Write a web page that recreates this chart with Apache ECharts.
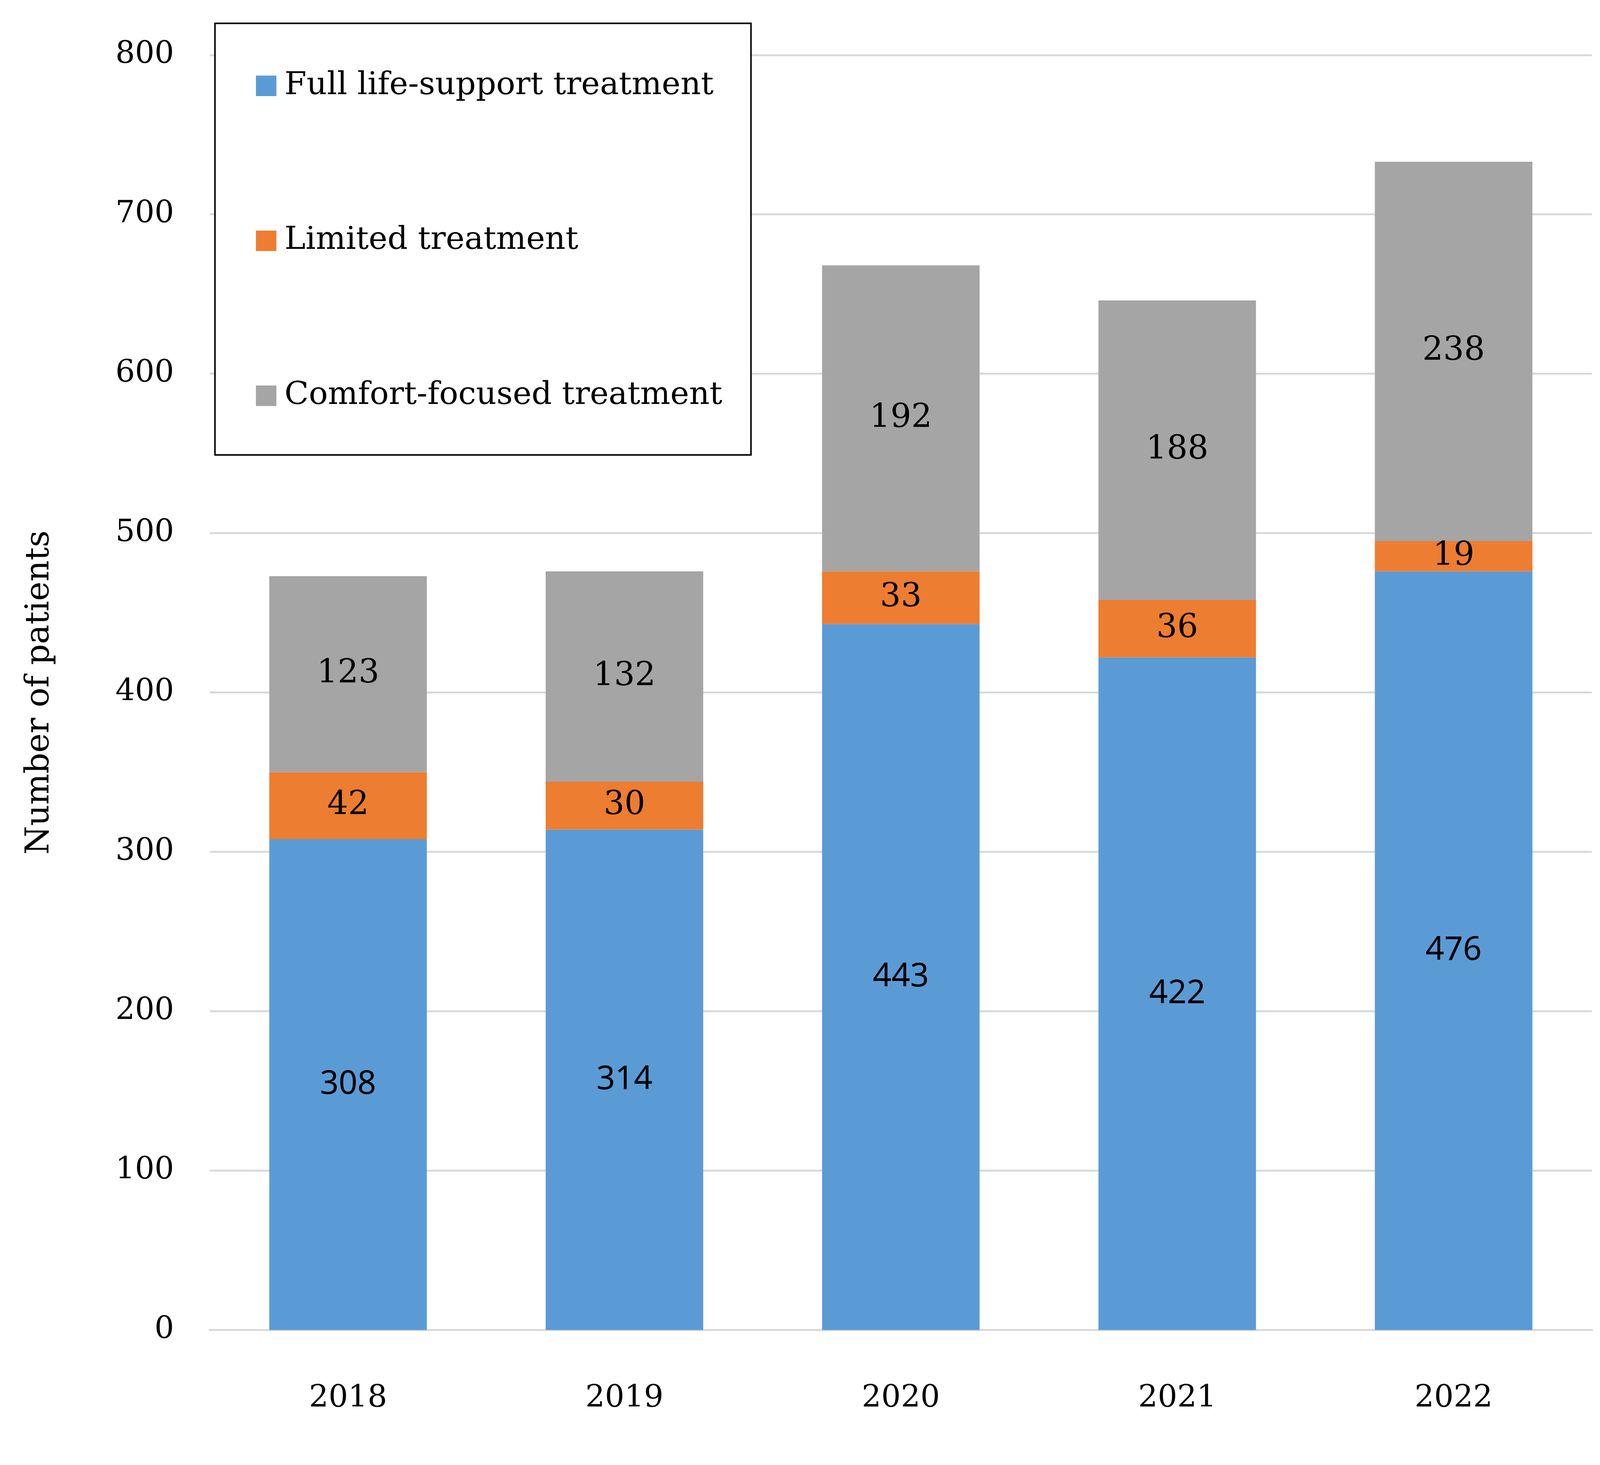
<!DOCTYPE html>
<html>
<head>
<meta charset="utf-8">
<script src="https://cdn.jsdelivr.net/npm/echarts@6/dist/echarts.min.js"></script>
<style>html,body{margin:0;padding:0;background:#fff;overflow:hidden}#chart{width:100vw;height:100vh}</style>
</head>
<body>
<div id="chart"></div>
<script>
const years = ['2018', '2019', '2020', '2021', '2022'];
const full_support = [308, 314, 443, 422, 476];
const limited = [42, 30, 33, 36, 19];
const comfort = [123, 132, 192, 188, 238];
const y_ticks = [0, 100, 200, 300, 400, 500, 600, 700, 800];

const serif = 'DejaVu Serif';
let dom = document.getElementById('chart');
let chart = echarts.init(dom);
// sizes measured on a 1563 px wide copy of the reference
const s = dom.clientWidth / 1563;
const sy = dom.clientHeight / 879;

function bar_series(name, data, color, font) {
    return {
        name: name,
        type: 'bar',
        stack: 'total',
        data: data,
        barWidth: '57%',
        itemStyle: { color: color },
        label: { show: true, position: 'inside', color: '#000', fontFamily: font, fontSize: 32 * s },
    };
}

chart.setOption({
    animation: false,
    backgroundColor: '#fff',
    grid: { left: 205 * s, right: 8 * s, top: 33 * sy, bottom: 81 * sy },
    legend: {
        left: 210 * s, top: 14 * sy,
        orient: 'vertical',
        padding: [28 * sy, 28 * s, 26 * sy, 40 * s],
        itemGap: 74 * sy,
        itemWidth: 20 * s, itemHeight: 20 * s,
        borderColor: '#000', borderWidth: 1.5 * s,
        backgroundColor: '#fff',
        textStyle: { fontFamily: serif, fontSize: 31 * s, color: '#000', padding: [0, 0, 0, 6 * s] },
        icon: 'rect',
    },
    xAxis: {
        type: 'category',
        data: years,
        axisLine: { lineStyle: { color: '#d9d9d9', width: 2 * s } },
        axisTick: { show: false },
        axisLabel: { fontFamily: serif, fontSize: 30 * s, color: '#000', margin: 32 * sy },
    },
    yAxis: {
        type: 'value',
        min: y_ticks[0], max: y_ticks[y_ticks.length - 1], interval: 100,
        name: 'Number of patients',
        nameLocation: 'middle',
        nameGap: 150 * s,
        nameTextStyle: { fontFamily: serif, fontSize: 32 * s, color: '#000' },
        axisLine: { show: false },
        axisTick: { show: false },
        splitLine: { lineStyle: { color: '#d9d9d9', width: 2 * s } },
        axisLabel: { fontFamily: serif, fontSize: 30 * s, color: '#000', margin: 35 * s },
    },
    series: [
        bar_series('Full life-support treatment', full_support, '#5b9bd5', 'Noto Sans'),
        bar_series('Limited treatment', limited, '#ed7d31', serif),
        bar_series('Comfort-focused treatment', comfort, '#a5a5a5', serif),
    ],
});
</script>
</body>
</html>
